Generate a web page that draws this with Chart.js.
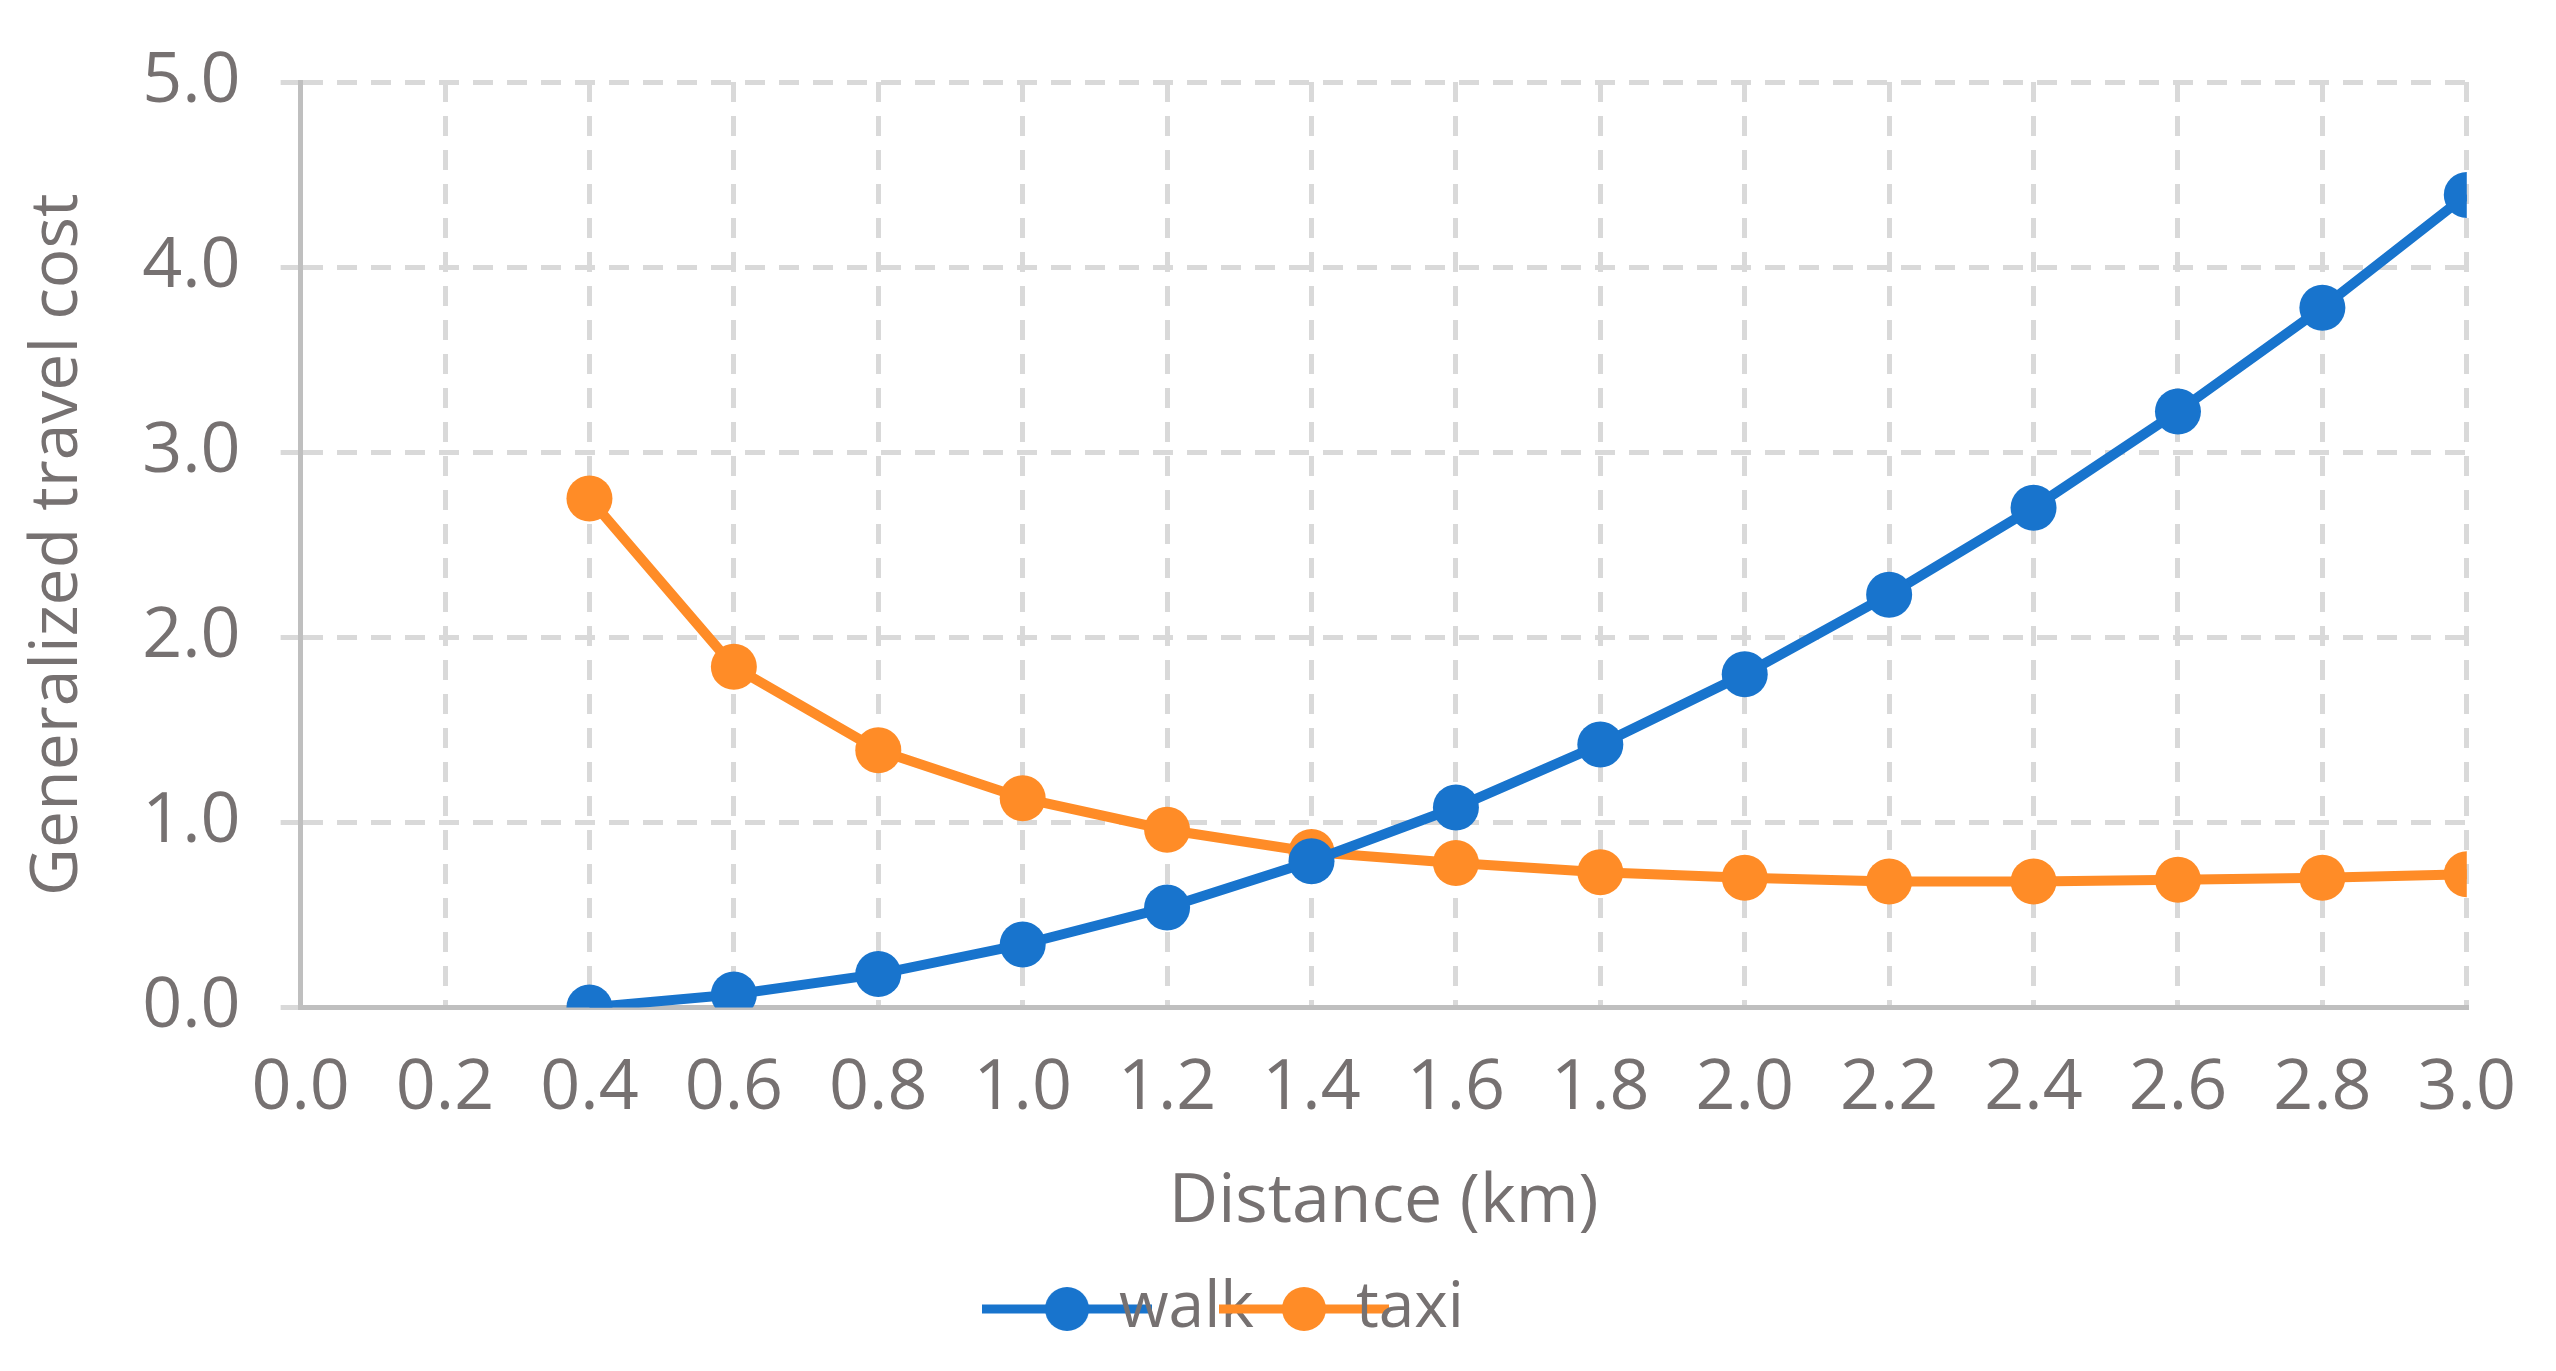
<!DOCTYPE html>
<html><head><meta charset="utf-8">
<script src="https://cdn.jsdelivr.net/npm/chart.js@4"></script>
<style>html,body{margin:0;padding:0;background:#fff}#w{width:2556px;height:1371px}</style>
</head><body><div id="w"><canvas id="c"></canvas></div>
<script>
const distances=[0.4,0.6,0.8,1.0,1.2,1.4,1.6,1.8,2.0,2.2,2.4,2.6,2.8,3.0];
const walkCost=[0.0,0.07,0.18,0.34,0.54,0.79,1.08,1.42,1.80,2.23,2.70,3.22,3.78,4.39];
const taxiCost=[2.75,1.84,1.39,1.13,0.96,0.84,0.78,0.73,0.70,0.68,0.68,0.69,0.70,0.72];
const seriesNames=["walk","taxi"];
const FONT="'Open Sans', 'Liberation Sans', sans-serif";
const grey="#767171";
function pts(v){return distances.map((d,i)=>({x:d,y:v[i]}));}
function icon(color){const c=document.createElement('canvas');c.width=170;c.height=50;const x=c.getContext('2d');
x.strokeStyle=color;x.lineWidth=9;x.beginPath();x.moveTo(0,25);x.lineTo(170,25);x.stroke();
x.fillStyle=color;x.beginPath();x.arc(85,25,22,0,Math.PI*2);x.fill();return c;}
function ds(label,vals,color){return{label,data:pts(vals),borderColor:color,backgroundColor:color,borderWidth:10,pointRadius:23,pointHoverRadius:23,pointBorderWidth:0,tension:0,pointStyle:'circle',_icon:icon(color)};}
new Chart(document.getElementById('c'),{
type:'line',
data:{datasets:[ds(seriesNames[0],walkCost,'#1874CD'),ds(seriesNames[1],taxiCost,'#FF8C27')]},
options:{responsive:true,maintainAspectRatio:false,animation:false,
layout:{padding:{left:15,right:60,top:45,bottom:20}},
plugins:{legend:{position:'bottom',labels:{color:grey,font:{family:FONT,size:64},usePointStyle:true,padding:30,
generateLabels(ch){return ch.data.datasets.map((d,i)=>({text:d.label,pointStyle:d._icon,fillStyle:d.borderColor,strokeStyle:d.borderColor,lineWidth:0,datasetIndex:i,fontColor:grey}));}}},
tooltip:{enabled:false}},
scales:{
x:{type:'linear',min:0,max:3,ticks:{stepSize:0.2,color:grey,font:{family:FONT,size:70},callback:v=>Number(v).toFixed(1),padding:40},
grid:{color:'#d9d9d9',lineWidth:5,drawTicks:false},border:{dash:[20,14],color:'#bfbfbf',width:5},
title:{display:true,text:'Distance (km)',color:grey,font:{family:FONT,size:68},padding:{top:-10}}},
y:{min:0,max:5,ticks:{stepSize:1,color:grey,font:{family:FONT,size:70},callback:v=>Number(v).toFixed(1),padding:40},
grid:{color:'#d9d9d9',lineWidth:5,drawTicks:true,tickLength:20},border:{dash:[20,14],color:'#bfbfbf',width:5},
title:{display:true,text:'Generalized travel cost',color:grey,font:{family:FONT,size:66}}}
}}});
</script></body></html>
